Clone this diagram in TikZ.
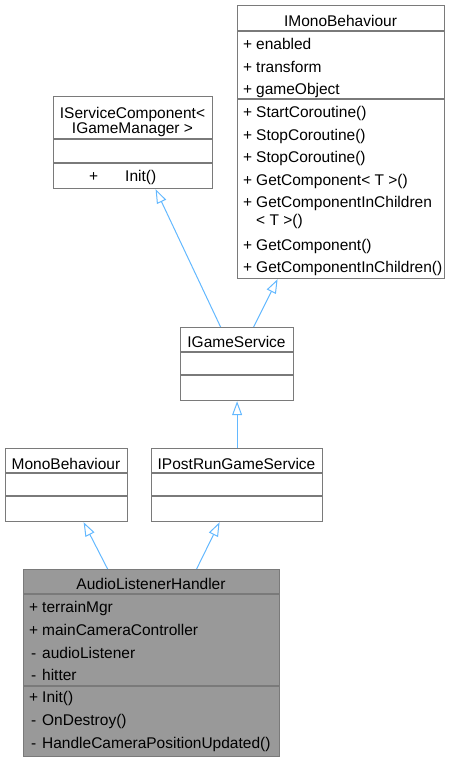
\documentclass[tikz,border=0pt]{standalone}
\usepackage{fontspec}
\setmainfont{Liberation Sans}
\usetikzlibrary{arrows.meta,calc}
\definecolor{boxgray}{HTML}{7A7A7A}
\definecolor{fillgray}{HTML}{999999}
\definecolor{edgeblue}{HTML}{63B8FF}
\newcommand{\vis}[1]{\makebox[13pt][l]{\makebox[9pt]{#1}}}
\tikzset{
  classbox/.style={draw=boxgray, line width=1.2pt, anchor=north west, inner sep=0pt},
  sepline/.style={draw=boxgray, line width=1.2pt},
  memtext/.style={anchor=north west, inner sep=0pt},
  titletext/.style={anchor=base, inner sep=0pt},
  inherit/.style={draw=edgeblue, line width=1pt, -{Triangle[open, length=14pt, width=10pt]}}
}
\begin{document}
\begin{tikzpicture}[x=1pt, y=-1pt, font=\fontsize{15.5}{22.6}\selectfont]
		\useasboundingbox (0,0) rectangle (450,761);
		
		\node [classbox, minimum width=207pt, minimum height=273pt] (imono) at (237,5) {};
		\node [classbox, minimum width=159pt, minimum height=92pt] (svc) at (53,96) {};
		\node [classbox, minimum width=113pt, minimum height=73pt] (gservice) at (180,327) {};
		\node [classbox, minimum width=122pt, minimum height=73pt] (mono) at (5,448) {};
		\node [classbox, minimum width=171pt, minimum height=73pt] (postrun) at (151,448) {};
		\node [classbox, fill=fillgray, minimum width=256pt, minimum height=187pt] (alh) at (23,569) {};
		
		\draw [sepline] (imono.west |- 0,31) -- (imono.east |- 0,31);
		\draw [sepline] (imono.west |- 0,99) -- (imono.east |- 0,99);
		\draw [sepline] (svc.west |- 0,139) -- (svc.east |- 0,139);
		\draw [sepline] (svc.west |- 0,163) -- (svc.east |- 0,163);
		\draw [sepline] (gservice.west |- 0,352) -- (gservice.east |- 0,352);
		\draw [sepline] (gservice.west |- 0,375) -- (gservice.east |- 0,375);
		\draw [sepline] (mono.west |- 0,473) -- (mono.east |- 0,473);
		\draw [sepline] (mono.west |- 0,496) -- (mono.east |- 0,496);
		\draw [sepline] (postrun.west |- 0,473) -- (postrun.east |- 0,473);
		\draw [sepline] (postrun.west |- 0,496) -- (postrun.east |- 0,496);
		\draw [sepline] (alh.west |- 0,594) -- (alh.east |- 0,594);
		\draw [sepline] (alh.west |- 0,686) -- (alh.east |- 0,686);
		
		\node [titletext] (imonoTitle) at (340.5,26) {IMonoBehaviour};
		\node [memtext] (imonoAttr) at (243,33.5) {\begin{tabular}{@{}l@{}}
			\vis{+}enabled\\
			\vis{+}transform\\
			\vis{+}gameObject
		\end{tabular}};
		\node [memtext] (imonoOps) at (243,101.5) {\begin{tabular}{@{}l@{}}
			\vis{+}StartCoroutine()\\
			\vis{+}StopCoroutine()\\
			\vis{+}StopCoroutine()\\
			\vis{+}GetComponent< T >()\\
			\vis{+}GetComponentInChildren\\[-5.5pt]
			\vis{}< T >()\\[2.5pt]
			\vis{+}GetComponent()\\
			\vis{+}GetComponentInChildren()
		\end{tabular}};
		
		\node [memtext, anchor=north] (svcTitle) at (132.5,102.5) {\begin{tabular}{@{}c@{}}
			IServiceComponent<\\[-7.6pt]
			IGameManager >
		\end{tabular}};
		\node [titletext, anchor=base west] (svcOps) at (89,181.7) {\makebox[36pt][l]{+}Init()};
		
		\node [titletext] (gserviceTitle) at (236.5,347.3) {IGameService};
		\node [titletext] (monoTitle) at (66,469) {MonoBehaviour};
		\node [titletext] (postrunTitle) at (236.5,469) {IPostRunGameService};
		
		\node [titletext] (alhTitle) at (151,589.3) {AudioListenerHandler};
		\node [memtext] (alhAttr) at (29,596.9) {\begin{tabular}{@{}l@{}}
			\vis{+}terrainMgr\\
			\vis{+}mainCameraController\\
			\vis{-}audioListener\\
			\vis{-}hitter
		\end{tabular}};
		\node [memtext] (alhOps) at (29,686.9) {\begin{tabular}{@{}l@{}}
			\vis{+}Init()\\
			\vis{-}OnDestroy()\\
			\vis{-}HandleCameraPositionUpdated()
		\end{tabular}};
		
		\draw [inherit] ([xshift=-44pt]alh.north) -- ([xshift=17pt]mono.south);
		\draw [inherit] ([xshift=45pt]alh.north) -- ([xshift=-17.5pt]postrun.south);
		\draw [inherit] (postrun.north) -- (gservice.south);
		\draw [inherit] ([xshift=-16.5pt]gservice.north) -- ([xshift=22.5pt]svc.south);
		\draw [inherit] ([xshift=16.5pt]gservice.north) -- ([xshift=-63.5pt]imono.south);
		
		\end{tikzpicture}
\end{document}
